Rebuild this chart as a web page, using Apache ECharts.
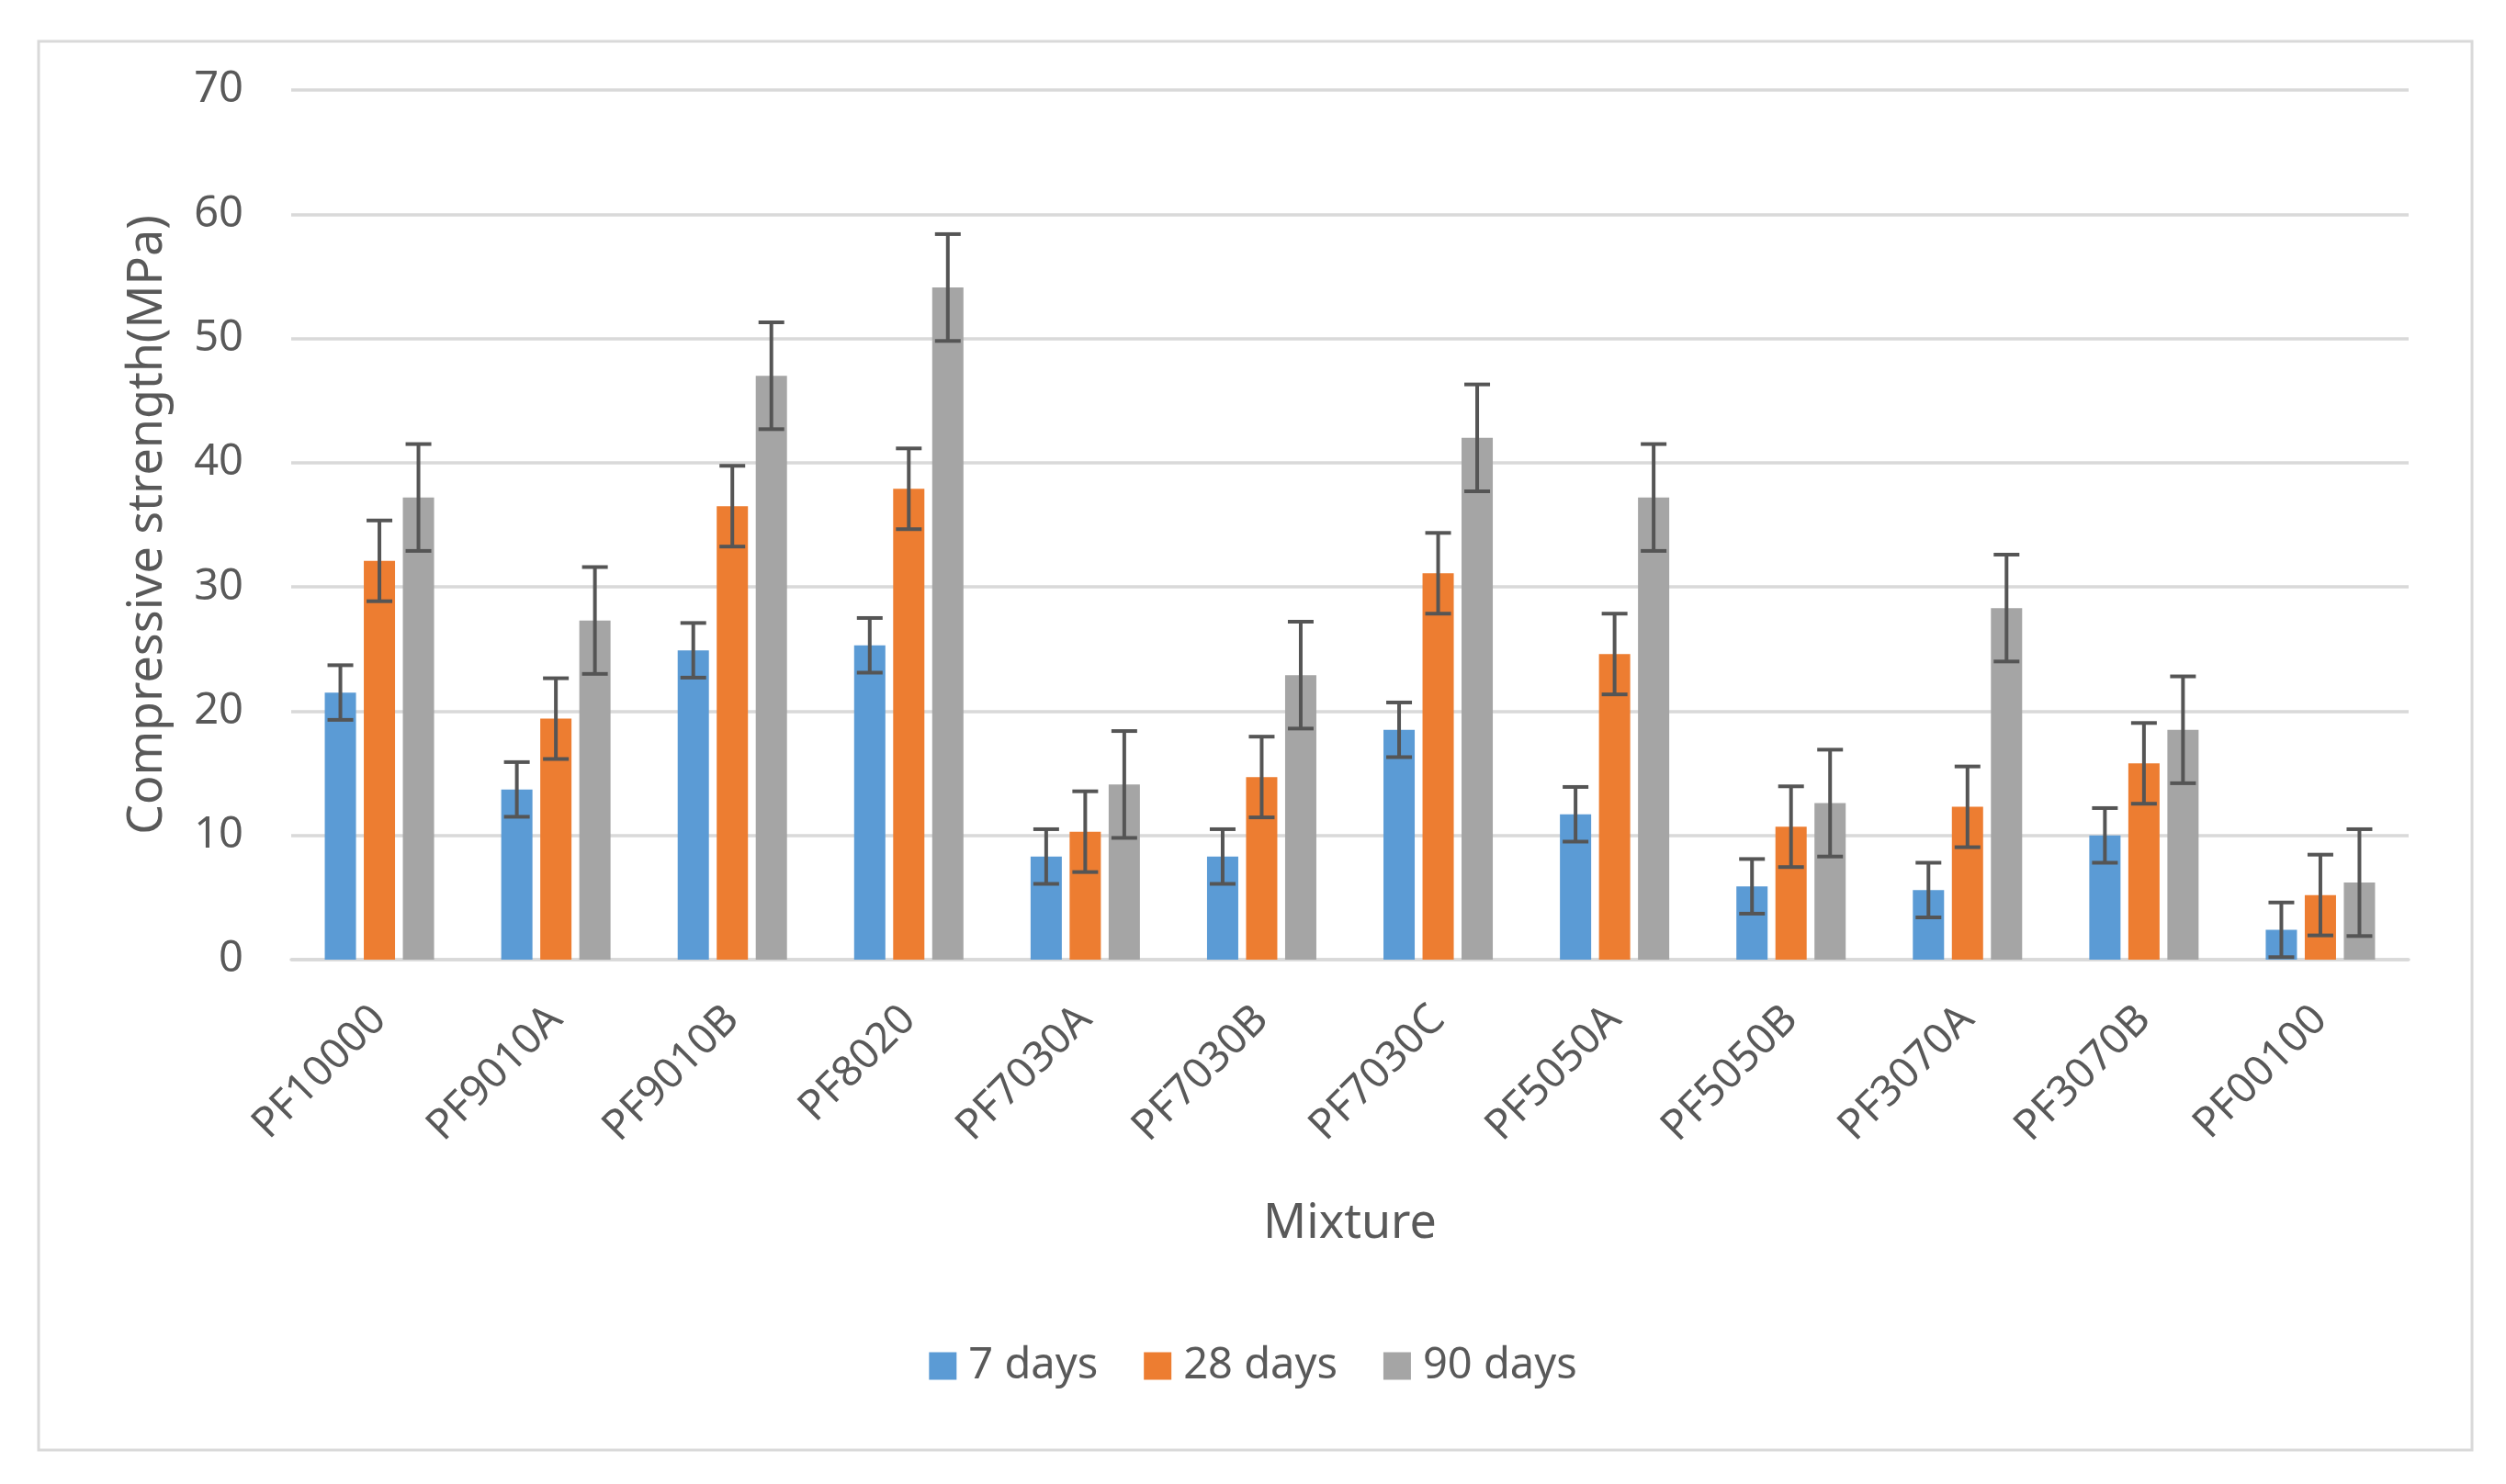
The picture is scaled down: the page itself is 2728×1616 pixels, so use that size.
<!DOCTYPE html>
<html>
<head>
<meta charset="utf-8">
<script src="https://cdn.jsdelivr.net/npm/echarts@6/dist/echarts.min.js"></script>
<style>
html,body{margin:0;padding:0;background:#fff;}
#chart{width:2728px;height:1616px;}
</style>
</head>
<body>
<div id="chart"></div>
<script>
var categories = ['PF10000','PF9010A','PF9010B','PF8020','PF7030A','PF7030B','PF7030C','PF5050A','PF5050B','PF3070A','PF3070B','PF00100'];
var seriesNames = ['7 days','28 days','90 days'];
var days7  = [21.5, 13.7, 24.9, 25.3, 8.3, 8.3, 18.5, 11.7, 5.9, 5.6, 10.0, 2.4];
var days28 = [32.1, 19.4, 36.5, 37.9, 10.3, 14.7, 31.1, 24.6, 10.7, 12.3, 15.8, 5.2];
var days90 = [37.2, 27.3, 47.0, 54.1, 14.1, 22.9, 42.0, 37.2, 12.6, 28.3, 18.5, 6.2];
var err7  = [2.2, 2.2, 2.2, 2.2, 2.2, 2.2, 2.2, 2.2, 2.2, 2.2, 2.2, 2.2];
var err28 = [3.25, 3.25, 3.25, 3.25, 3.25, 3.25, 3.25, 3.25, 3.25, 3.25, 3.25, 3.25];
var err90 = [4.3, 4.3, 4.3, 4.3, 4.3, 4.3, 4.3, 4.3, 4.3, 4.3, 4.3, 4.3];
var yTicks = [0, 10, 20, 30, 40, 50, 60, 70];

var colors = ['#5B9BD5', '#ED7D31', '#A5A5A5'];
var FONT = 'Noto Sans';
var BAR_W = 34, BAR_GAP = 0.25;

var allValues = [days7, days28, days90];
var allErrs = [err7, err28, err90];

function errData(vals, errs) {
  return vals.map(function (v, i) { return [i, v, errs[i]]; });
}

function makeErrSeries(k) {
  return {
    type: 'custom',
    name: seriesNames[k] + ' err',
    z: 10,
    silent: true,
    data: errData(allValues[k], allErrs[k]),
    encode: { x: 0, y: 1 },
    renderItem: function (params, api) {
      var idx = api.value(0), v = api.value(1), e = api.value(2);
      var off = (k - 1) * BAR_W * (1 + BAR_GAP);
      var top = api.coord([idx, v + e]);
      var bot = api.coord([idx, Math.max(v - e, 0)]);
      var x = top[0] + off;
      var hw = 14;
      var st = { stroke: '#555555', lineWidth: 4 };
      return {
        type: 'group',
        children: [
          { type: 'line', shape: { x1: x, y1: top[1], x2: x, y2: bot[1] }, style: st },
          { type: 'line', shape: { x1: x - hw, y1: top[1], x2: x + hw, y2: top[1] }, style: st },
          { type: 'line', shape: { x1: x - hw, y1: bot[1], x2: x + hw, y2: bot[1] }, style: st }
        ]
      };
    }
  };
}

var chart = echarts.init(document.getElementById('chart'));
var option = {
  backgroundColor: '#fff',
  animation: false,
  textStyle: { fontFamily: FONT },
  graphic: [{
    type: 'rect',
    shape: { x: 42, y: 45, width: 2649, height: 1534 },
    style: { fill: 'none', stroke: '#D9D9D9', lineWidth: 3 },
    z: -1
  }],
  grid: { left: 317, right: 106, top: 98, bottom: 571, containLabel: false },
  legend: {
    data: seriesNames,
    top: 1459,
    left: 'center',
    icon: 'rect',
    itemWidth: 30,
    itemHeight: 30,
    itemGap: 50,
    textStyle: { fontFamily: FONT, fontSize: 47, color: '#595959', padding: [0, 0, 0, 8] }
  },
  xAxis: {
    type: 'category',
    data: categories,
    name: 'Mixture',
    nameLocation: 'middle',
    nameGap: 262,
    nameTextStyle: { fontFamily: FONT, fontSize: 52, color: '#595959' },
    axisLine: { show: true, lineStyle: { color: '#D9D9D9', width: 3.5 } },
    axisTick: { show: false },
    axisLabel: { rotate: 45, margin: 58, fontFamily: FONT, fontSize: 46, color: '#595959', interval: 0 }
  },
  yAxis: {
    type: 'value',
    min: 0,
    max: 70,
    interval: 10,
    name: 'Compressive strength(MPa)',
    nameLocation: 'middle',
    nameGap: 130,
    nameTextStyle: { fontFamily: FONT, fontSize: 52, color: '#595959' },
    axisLine: { show: false },
    axisTick: { show: false },
    splitLine: { lineStyle: { color: '#D9D9D9', width: 3.5 } },
    axisLabel: {
      margin: 52, fontFamily: FONT, fontSize: 47, color: '#595959',
      formatter: function (v) { return yTicks.indexOf(v) >= 0 ? String(v) : ''; }
    }
  },
  series: [
    { type: 'bar', name: seriesNames[0], data: days7, barWidth: BAR_W, barGap: '25%', itemStyle: { color: colors[0] } },
    { type: 'bar', name: seriesNames[1], data: days28, barWidth: BAR_W, barGap: '25%', itemStyle: { color: colors[1] } },
    { type: 'bar', name: seriesNames[2], data: days90, barWidth: BAR_W, barGap: '25%', itemStyle: { color: colors[2] } },
    makeErrSeries(0),
    makeErrSeries(1),
    makeErrSeries(2)
  ]
};
chart.setOption(option);
</script>
</body>
</html>
